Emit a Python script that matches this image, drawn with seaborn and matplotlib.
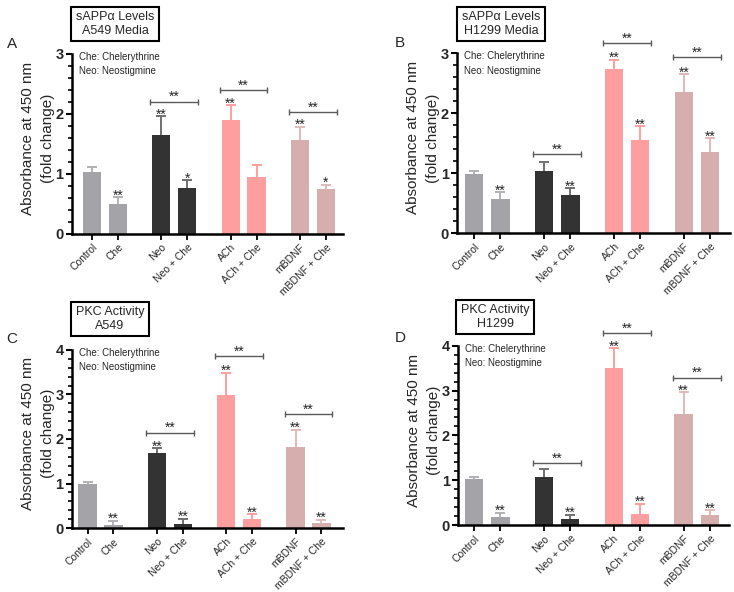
import pandas as pd
import matplotlib
matplotlib.use("Agg")
import matplotlib.pyplot as plt
from matplotlib.ticker import MultipleLocator
import seaborn as sns

# ==========================================
# data
# ==========================================
labels = ['Control', 'Che', 'Neo', 'Neo + Che', 'ACh', 'ACh + Che', 'mBDNF', 'mBDNF + Che']

a_mean = [1.03, 0.50, 1.64, 0.77, 1.89, 0.95, 1.57, 0.74]
a_err = [0.08, 0.11, 0.32, 0.12, 0.25, 0.19, 0.21, 0.08]
a_sig = ['', '**', '**', '*', '**', '', '**', '*']
a_bracket = [2.20, 2.39, 2.03]   # Neo, ACh, mBDNF pairs

b_mean = [0.98, 0.57, 1.04, 0.63, 2.73, 1.56, 2.36, 1.35]
b_err = [0.05, 0.11, 0.14, 0.12, 0.16, 0.22, 0.29, 0.23]
b_sig = ['', '**', '', '**', '**', '**', '**', '**']
b_bracket = [1.32, 3.17, 2.93]

c_mean = [1.00, 0.075, 1.69, 0.09, 2.98, 0.195, 1.82, 0.12]
c_err = [0.03, 0.09, 0.10, 0.11, 0.51, 0.11, 0.38, 0.07]
c_sig = ['', '**', '**', '**', '**', '**', '**', '**']
c_bracket = [2.14, 3.86, 2.56]

d_mean = [1.03, 0.17, 1.08, 0.14, 3.51, 0.25, 2.48, 0.22]
d_err = [0.05, 0.11, 0.18, 0.09, 0.43, 0.22, 0.48, 0.11]
d_sig = ['', '**', '', '**', '**', '**', '**', '**']
d_bracket = [1.38, 4.28, 3.29]

titles = ['sAPP\u03b1 Levels\nA549 Media', 'sAPP\u03b1 Levels\nH1299 Media',
          'PKC Activity\nA549', 'PKC Activity\nH1299']
letters = ['A', 'B', 'C', 'D']

# ==========================================
# style
# ==========================================
sns.set_theme(style="ticks")
plt.rcParams['font.family'] = ['Liberation Sans', 'DejaVu Sans']

bar_colors = ['#a3a3a8', '#a3a3a8', '#333333', '#333333',
              '#ff9e9f', '#ff9e9f', '#d6aeae', '#d6aeae']
err_colors = ['#b2b2b6', '#b2b2b6', '#707070', '#707070',
              '#ff9e9f', '#ff9e9f', '#dfbaba', '#dfbaba']
bracket_color = '#5a5a5a'

GROUP_STEP = 2.67
positions = [g * GROUP_STEP + k for g in range(4) for k in (0, 1)]

# axes rectangles in figure fraction + x margins, per panel
layout = [
    dict(rect=[0.098, 0.605, 0.369, 0.304], xm=(0.77, 0.65), ymax=3,
         title=(115, 24), letter=(12, 44)),
    dict(rect=[0.623, 0.606, 0.372, 0.304], xm=(0.65, 0.77), ymax=3,
         title=(501, 24), letter=(400, 43)),
    dict(rect=[0.098, 0.108, 0.369, 0.301], xm=(0.60, 0.82), ymax=4,
         title=(110, 319), letter=(12, 339)),
    dict(rect=[0.624, 0.113, 0.369, 0.303], xm=(0.62, 0.73), ymax=4,
         title=(495, 317), letter=(400, 338)),
]

panels = [(a_mean, a_err, a_sig, a_bracket),
          (b_mean, b_err, b_sig, b_bracket),
          (c_mean, c_err, c_sig, c_bracket),
          (d_mean, d_err, d_sig, d_bracket)]

W, H = 734, 592
fig = plt.figure(figsize=(W / 100, H / 100), dpi=100)


def painel(ax, mean, err, sig, bracket, lay):
    df = pd.DataFrame({'pos': positions, 'label': labels, 'mean': mean})
    sns.barplot(data=df, x='pos', y='mean', hue='label', palette=dict(zip(labels, bar_colors)),
                native_scale=True, width=0.7, dodge=False, legend=False,
                errorbar=None, saturation=1, linewidth=0, ax=ax)

    # error bars, upper half only (no cap at the bar top)
    for x, m, e, c in zip(positions, mean, err, err_colors):
        ax.vlines(x, m, m + e, color=c, lw=1.4, zorder=1, clip_on=False)
        ax.plot([x], [m + e], marker='_', ms=7.6, mew=1.4, color=c, zorder=1, clip_on=False)

    # significance above bars
    for x, m, e, s in zip(positions, mean, err, sig):
        if s:
            ax.annotate(s, xy=(x, m + e), xytext=(0, -1.5), textcoords='offset points',
                        ha='center', va='baseline', fontsize=10, annotation_clip=False)

    # brackets: treatment vs treatment + Che (groups 1..3)
    for g, yb in enumerate(bracket, start=1):
        x1 = positions[2 * g] - 0.42
        x2 = positions[2 * g + 1] + 0.42
        ax.plot([x1, x2], [yb, yb], color=bracket_color, lw=1, clip_on=False)
        ax.plot([x1, x2], [yb, yb], ls='none', marker='|', ms=4.5, mew=1,
                color=bracket_color, clip_on=False)
        ax.annotate('**', xy=((x1 + x2) / 2, yb), xytext=(0, 0.5), textcoords='offset points',
                    ha='center', va='baseline', fontsize=10, annotation_clip=False)

    ax.set_xlim(positions[0] - lay['xm'][0], positions[-1] + lay['xm'][1])
    ax.set_ylim(0, lay['ymax'])
    ax.yaxis.set_major_locator(MultipleLocator(1))
    ax.yaxis.set_minor_locator(MultipleLocator(0.2))
    ax.set_xticks(positions)
    ax.set_xticklabels(labels, rotation=45, ha='right', rotation_mode='anchor', fontsize=7.5)

    for lab in ax.get_yticklabels():
        lab.set_fontweight('bold')
    ax.tick_params(axis='y', which='major', length=4, width=1.5, labelsize=10.5, pad=2, color='black')
    ax.tick_params(axis='y', which='minor', length=3, width=1.2, color='black')
    ax.tick_params(axis='x', which='major', length=4, width=1.3, pad=2, color='black')

    sns.despine(ax=ax)
    for sp in ['left', 'bottom']:
        ax.spines[sp].set_linewidth(1.8)
        ax.spines[sp].set_color('black')

    ax.set_xlabel('')
    ax.set_ylabel('Absorbance at 450 nm\n(fold change)', fontsize=11, linespacing=1.55)
    ax.yaxis.set_label_coords(-0.062, 0.53)

    ax.text(0.025, 1.012, 'Che: Chelerythrine\nNeo: Neostigmine', transform=ax.transAxes,
            ha='left', va='top', fontsize=7, linespacing=1.55)


for i, (mean, err, sig, bracket) in enumerate(panels):
    lay = layout[i]
    ax = fig.add_axes(lay['rect'])
    painel(ax, mean, err, sig, bracket, lay)

    tx, ty = lay['title']
    fig.text(tx / W, 1 - ty / H, titles[i], ha='center', va='center', fontsize=9,
             linespacing=1.15,
             bbox=dict(boxstyle='square,pad=0.38', fc='white', ec='black', lw=1.5))
    lx, ly = lay['letter']
    fig.text(lx / W, 1 - ly / H, letters[i], ha='center', va='center', fontsize=11)

fig.savefig('out.png', dpi=100)
